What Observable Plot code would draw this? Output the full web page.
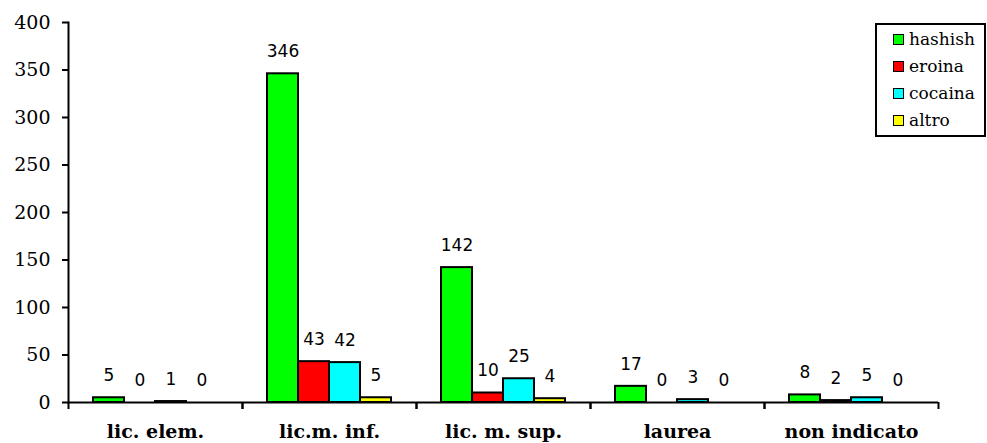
<!DOCTYPE html>
<html>
<head>
<meta charset="utf-8">
<script src="https://cdn.jsdelivr.net/npm/d3@7"></script>
<script src="https://cdn.jsdelivr.net/npm/@observablehq/plot@0.6"></script>
<style>
  html, body { margin: 0; padding: 0; background: #fff; }
  #wrap { position: relative; width: 987px; height: 443px; }
  #legend {
    position: absolute; left: 875px; top: 23px; width: 107px; height: 110px;
    border: 2px solid #000; background: #fff;
    font-family: "DejaVu Serif", serif; font-size: 17px; color: #000;
  }
  .row { position: absolute; left: 16px; height: 20px; display: flex; align-items: center; }
  .sw { width: 9px; height: 9px; border: 1.5px solid #000; margin-right: 5px; }
</style>
</head>
<body>
<div id="wrap"><div id="legend"></div></div>
<script>
const categories = ["lic. elem.", "lic.m. inf.", "lic. m. sup.", "laurea", "non indicato"];
const series = ["hashish", "eroina", "cocaina", "altro"];
const hashish = [5, 346, 142, 17, 8];
const eroina = [0, 43, 10, 0, 2];
const cocaina = [1, 42, 25, 3, 5];
const altro = [0, 5, 4, 0, 0];
const colors = ["#00ff00", "#ff0000", "#00ffff", "#ffff00"];
const yTicks = [0, 50, 100, 150, 200, 250, 300, 350, 400];

const values = {hashish, eroina, cocaina, altro};
const rows = [];
categories.forEach((c, i) => series.forEach(s => rows.push({cat: c, series: s, value: values[s][i]})));

const W = 987, H = 443, ML = 68, MR = 49, MT = 22, MB = 41;
const bw = (W - ML - MR) / categories.length;

const plot = Plot.plot({
  width: W, height: H,
  marginLeft: ML, marginRight: MR, marginTop: MT, marginBottom: MB,
  style: {fontFamily: "DejaVu Serif", fontSize: "16px", color: "#000", background: "#fff"},
  fx: {domain: categories, padding: 0, axis: null, label: null},
  x: {domain: series, paddingInner: 0, paddingOuter: 0.72, axis: null, label: null},
  y: {domain: [0, 400], axis: null, label: null},
  color: {domain: series, range: colors},
  marks: [
    Plot.barY(rows, {fx: "cat", x: "series", y: "value", fill: "series", stroke: "#000", strokeWidth: 2}),
    Plot.ruleY([0], {stroke: "#000", strokeWidth: 2}),
    Plot.frame({anchor: "left", facetAnchor: "left", stroke: "#000", strokeWidth: 2}),
    Plot.axisY({ticks: yTicks, tickSize: 6, tickPadding: 12, fontSize: 19, fontFamily: "DejaVu Serif", strokeWidth: 2, label: null}),
    Plot.axisFx({anchor: "bottom", tickSize: 7, tickFormat: () => "", dx: -bw / 2, strokeWidth: 2, label: null}),
    Plot.axisFx({anchor: "bottom", tickSize: 7, tickFormat: () => "", dx: bw / 2, strokeWidth: 2, label: null}),
    Plot.axisFx({anchor: "bottom", tickSize: 0, tickPadding: 22, fontSize: 19, fontWeight: "bold", fontFamily: "DejaVu Serif", label: null}),
    Plot.text(rows, {fx: "cat", x: "series", y: "value", text: d => String(d.value), dy: -22, fontSize: 17, fontFamily: "DejaVu Sans", fill: "#000"})
  ]
});
document.getElementById("wrap").prepend(plot);

const legend = document.getElementById("legend");
series.forEach((s, i) => {
  const r = document.createElement("div");
  r.className = "row";
  r.style.top = (4 + i * 27) + "px";
  const sw = document.createElement("div");
  sw.className = "sw";
  sw.style.background = colors[i];
  const t = document.createElement("span");
  t.textContent = s;
  r.append(sw, t);
  legend.append(r);
});
</script>
</body>
</html>
